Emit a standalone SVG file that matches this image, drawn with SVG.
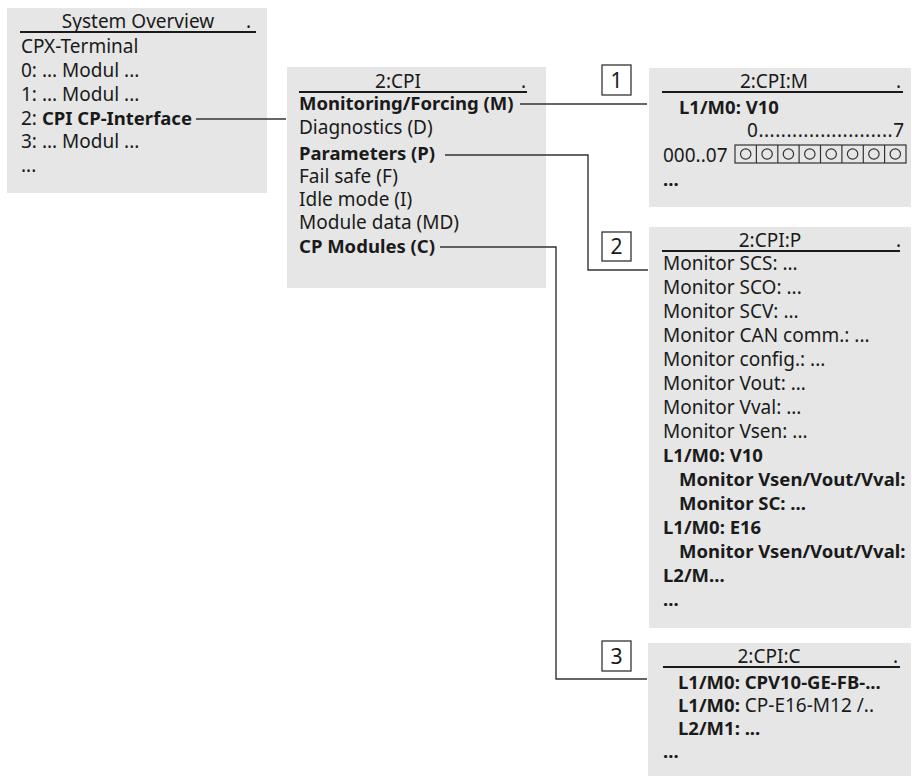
<svg xmlns="http://www.w3.org/2000/svg" width="912" height="776" viewBox="0 0 912 776">
<style>
.bg{fill:#e6e6e6}
text{font-family:"Noto Sans","Open Sans",sans-serif;font-size:19px;fill:#1a1a1a}
.b{font-weight:bold;font-size:18.5px}
.c{text-anchor:middle}
.ul{stroke:#1a1a1a;stroke-width:2}
.con{fill:none;stroke:#333;stroke-width:1.4}
.nb{fill:#fff;stroke:#333;stroke-width:1.3}
.nt{font-size:21px;text-anchor:middle}
.cell{fill:none;stroke:#333;stroke-width:1.2}
</style>
<g id="overview">
<rect class="bg" x="7" y="8" width="260" height="185"/>
<text class="c" x="138" y="28">System Overview</text>
<text x="246" y="28">.</text>
<line class="ul" x1="20" y1="32" x2="256" y2="32"/>
<text x="21" y="53">CPX-Terminal</text>
<text x="21" y="77">0: ... Modul ...</text>
<text x="21" y="101">1: ... Modul ...</text>
<text x="21" y="125">2: <tspan class="b">CPI CP-Interface</tspan></text>
<text x="21" y="148">3: ... Modul ...</text>
<text x="21" y="172">...</text>
</g>
<g id="cpi">
<rect class="bg" x="287" y="67" width="259" height="221"/>
<text class="c" x="398" y="88">2:CPI</text>
<text x="521" y="88">.</text>
<line class="ul" x1="299" y1="92" x2="527" y2="92"/>
<text class="b" x="299" y="110">Monitoring/Forcing (M)</text>
<text x="299" y="134">Diagnostics (D)</text>
<text class="b" x="299" y="160">Parameters (P)</text>
<text x="299" y="183">Fail safe (F)</text>
<text x="299" y="206">Idle mode (I)</text>
<text x="299" y="229">Module data (MD)</text>
<text class="b" x="299" y="253">CP Modules (C)</text>
</g>
<g id="cpi-m">
<rect class="bg" x="649" y="68" width="262" height="139"/>
<text class="c" x="774" y="88">2:CPI:M</text>
<text x="896" y="88">.</text>
<line class="ul" x1="662" y1="92" x2="903" y2="92"/>
<text class="b" x="679" y="114">L1/M0: V10</text>
<text x="747" y="137" textLength="157" lengthAdjust="spacing">0........................7</text>
<text x="663" y="162">000..07</text>
<g class="cell">
<rect x="735" y="145" width="171" height="18"/>
<line x1="756.4" y1="145" x2="756.4" y2="163"/>
<line x1="777.8" y1="145" x2="777.8" y2="163"/>
<line x1="799.1" y1="145" x2="799.1" y2="163"/>
<line x1="820.5" y1="145" x2="820.5" y2="163"/>
<line x1="841.9" y1="145" x2="841.9" y2="163"/>
<line x1="863.3" y1="145" x2="863.3" y2="163"/>
<line x1="884.6" y1="145" x2="884.6" y2="163"/>
<circle cx="745.7" cy="154" r="5.2"/>
<circle cx="767.1" cy="154" r="5.2"/>
<circle cx="788.4" cy="154" r="5.2"/>
<circle cx="809.8" cy="154" r="5.2"/>
<circle cx="831.2" cy="154" r="5.2"/>
<circle cx="852.6" cy="154" r="5.2"/>
<circle cx="873.9" cy="154" r="5.2"/>
<circle cx="895.3" cy="154" r="5.2"/>
</g>
<text class="b" x="663" y="186">...</text>
</g>
<g id="cpi-p">
<rect class="bg" x="649" y="227" width="262" height="401"/>
<text class="c" x="770" y="247">2:CPI:P</text>
<text x="896" y="247">.</text>
<line class="ul" x1="662" y1="251" x2="900" y2="251"/>
<text x="663" y="270">Monitor SCS: ...</text>
<text x="663" y="294">Monitor SCO: ...</text>
<text x="663" y="318">Monitor SCV: ...</text>
<text x="663" y="342">Monitor CAN comm.: ...</text>
<text x="663" y="366">Monitor config.: ...</text>
<text x="663" y="390">Monitor Vout: ...</text>
<text x="663" y="414">Monitor Vval: ...</text>
<text x="663" y="438">Monitor Vsen: ...</text>
<text class="b" x="663" y="462">L1/M0: V10</text>
<text class="b" x="679" y="486">Monitor Vsen/Vout/Vval:</text>
<text class="b" x="679" y="510">Monitor SC: ...</text>
<text class="b" x="663" y="534">L1/M0: E16</text>
<text class="b" x="679" y="558">Monitor Vsen/Vout/Vval:</text>
<text class="b" x="663" y="582">L2/M...</text>
<text class="b" x="663" y="606">...</text>
</g>
<g id="cpi-c">
<rect class="bg" x="648" y="643" width="263" height="133"/>
<text class="c" x="769" y="663">2:CPI:C</text>
<text x="893" y="663">.</text>
<line class="ul" x1="663" y1="667" x2="900" y2="667"/>
<text class="b" x="678" y="689">L1/M0: CPV10-GE-FB-...</text>
<text x="678" y="712"><tspan class="b">L1/M0:</tspan> CP-E16-M12 /..</text>
<text class="b" x="678" y="735">L2/M1: ...</text>
<text class="b" x="663" y="758">...</text>
</g>
<g id="connectors">
<line class="con" x1="196" y1="119" x2="286" y2="119"/>
<line class="con" x1="520" y1="104" x2="647" y2="104"/>
<polyline class="con" points="445,155 588,155 588,270 648,270"/>
<polyline class="con" points="440,247 556,247 556,679 647,679"/>
</g>
<g id="label-1"><rect class="nb" x="602" y="65" width="29" height="30"/><text class="nt" x="616.5" y="88">1</text></g>
<g id="label-2"><rect class="nb" x="602" y="232" width="29" height="29"/><text class="nt" x="616.5" y="254">2</text></g>
<g id="label-3"><rect class="nb" x="602" y="641" width="29" height="30"/><text class="nt" x="616.5" y="664">3</text></g>
</svg>
